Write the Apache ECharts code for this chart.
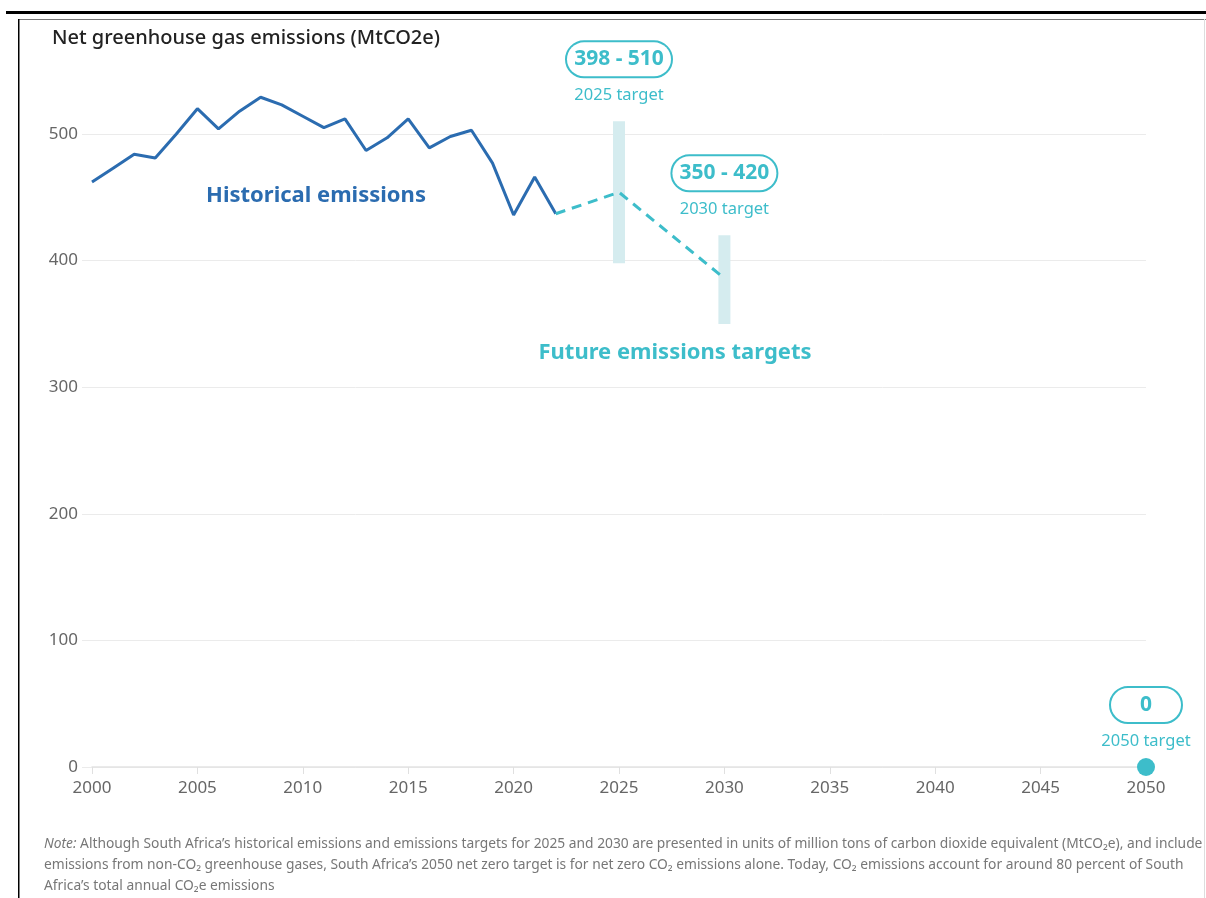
<!DOCTYPE html>
<html>
<head>
<meta charset="utf-8">
<script src="https://cdn.jsdelivr.net/npm/echarts@6/dist/echarts.min.js"></script>
<style>
  html, body { margin: 0; padding: 0; background: #fff; }
  #chart { width: 1206px; height: 898px; }
</style>
</head>
<body>
<div id="chart"></div>
<script>
// historical net emissions, MtCO2e
const histYears = [2000, 2001, 2002, 2003, 2004, 2005, 2006, 2007, 2008, 2009, 2010, 2011,
  2012, 2013, 2014, 2015, 2016, 2017, 2018, 2019, 2020, 2021, 2022]
const histValues = [462, 473, 484, 481, 500, 520, 504, 518, 529, 523, 514, 505,
  512, 487, 497, 512, 489, 498, 503, 477, 436, 466, 437]

// dashed path towards the targets
const pathYears = [2022, 2025, 2030]
const pathValues = [437, 454, 386]

// target ranges
const targetYears = [2025, 2030, 2050]
const targetLow = [398, 350, 0]
const targetHigh = [510, 420, 0]
const targetRange = ['398 - 510', '350 - 420', '0']
const targetNames = ['2025 target', '2030 target', '2050 target']

const xTicks = [2000, 2050, 5]
const yTicks = [0, 500, 100]

const BLUE = '#2b6cb0'
const TEAL = '#3dbdca'
const FONT = '"Noto Sans", Lato, sans-serif'

const chart = echarts.init(document.getElementById('chart'))

const option = {
  backgroundColor: '#fff',
  animation: false,
  textStyle: { fontFamily: FONT },
  grid: { left: 92, right: 60, top: 134, bottom: 131 },
  xAxis: {
    type: 'value',
    min: xTicks[0],
    max: xTicks[1],
    interval: xTicks[2],
    axisLine: { show: true, lineStyle: { color: '#e4e4e4', width: 1.5 } },
    axisTick: { show: true, length: 7, lineStyle: { color: '#e0e0e0' } },
    splitLine: { show: false },
    axisLabel: {
      color: '#666', fontSize: 17, margin: 13, fontFamily: FONT,
      formatter: v => String(v)
    }
  },
  yAxis: {
    type: 'value',
    min: yTicks[0],
    max: yTicks[1],
    interval: yTicks[2],
    axisLine: { show: false },
    axisTick: { show: true, length: 10, lineStyle: { color: '#ebebeb' } },
    splitLine: { show: true, lineStyle: { color: '#ebebeb', width: 1 } },
    axisLabel: { color: '#666', fontSize: 17, margin: 14, fontFamily: FONT }
  },
  series: [
    {
      // target bars + pills
      type: 'custom',
      z: 1,
      clip: false,
      data: targetYears.map((y, i) => [y, targetLow[i], targetHigh[i]]),
      encode: { x: 0, y: [1, 2] },
      renderItem: function (params, api) {
        const i = params.dataIndex
        const x = api.value(0)
        const lo = api.value(1)
        const hi = api.value(2)
        const pLo = api.coord([x, lo])
        const pHi = api.coord([x, hi])
        const children = []
        if (hi > lo) {
          children.push({
            type: 'rect',
            shape: { x: pLo[0] - 6, y: pHi[1], width: 12, height: pLo[1] - pHi[1] },
            style: { fill: '#d5ecef' }
          })
        } else {
          children.push({
            type: 'circle',
            shape: { cx: pLo[0], cy: pLo[1], r: 9 },
            style: { fill: TEAL },
            z2: 10
          })
        }
        const label = targetRange[i]
        children.push({
          type: 'text',
          x: pHi[0],
          y: pHi[1] - 62,
          style: {
            text: label,
            align: 'center',
            verticalAlign: 'middle',
            width: label.length > 2 ? 100 : 66,
            fill: TEAL,
            font: 'bold 21px ' + FONT,
            backgroundColor: '#fff',
            borderColor: TEAL,
            borderWidth: 2,
            borderRadius: 18,
            padding: [7, 2, 6, 2]
          }
        })
        children.push({
          type: 'text',
          x: pHi[0],
          y: pHi[1] - 26,
          style: {
            text: targetNames[i],
            align: 'center',
            verticalAlign: 'middle',
            fill: TEAL,
            font: '16.5px ' + FONT
          }
        })
        return { type: 'group', children: children }
      }
    },
    {
      name: 'Historical emissions',
      type: 'line',
      z: 3,
      clip: false,
      symbol: 'none',
      lineStyle: { color: BLUE, width: 3 },
      data: histYears.map((y, i) => [y, histValues[i]])
    },
    {
      name: 'Future emissions targets',
      type: 'line',
      z: 3,
      clip: false,
      symbol: 'none',
      lineStyle: { color: TEAL, width: 3, type: [10, 7] },
      data: pathYears.map((y, i) => [y, pathValues[i]])
    }
  ],
  graphic: [
    // frame
    { type: 'rect', shape: { x: 6, y: 11, width: 1200, height: 3 }, style: { fill: '#000' } },
    { type: 'rect', shape: { x: 18, y: 19, width: 1188, height: 1 }, style: { fill: '#777' } },
    { type: 'rect', shape: { x: 18, y: 19, width: 1.5, height: 879 }, style: { fill: '#000' } },
    { type: 'rect', shape: { x: 1204, y: 19, width: 1, height: 879 }, style: { fill: '#ddd' } },
    {
      type: 'text', left: 52, top: 28,
      style: { text: 'Net greenhouse gas emissions (MtCO2e)', fill: '#222', font: '500 20px ' + FONT }
    },
    {
      type: 'text', x: 316, y: 196,
      style: { text: 'Historical emissions', fill: BLUE, font: 'bold 22px ' + FONT, align: 'center', verticalAlign: 'middle' }
    },
    {
      type: 'text', x: 675, y: 353,
      style: { text: 'Future emissions targets', fill: TEAL, font: 'bold 22px ' + FONT, align: 'center', verticalAlign: 'middle' }
    },
    {
      type: 'text', left: 44, top: 834,
      style: {
        text: '{i|Note:} Although South Africa\u2019s historical emissions and emissions targets for 2025 and 2030 are presented in units of million tons of carbon dioxide equivalent (MtCO\u2082e), and include\n' +
          'emissions from non-CO\u2082 greenhouse gases, South Africa\u2019s 2050 net zero target is for net zero CO\u2082 emissions alone. Today, CO\u2082 emissions account for around 80 percent of South\n' +
          'Africa\u2019s total annual CO\u2082e emissions',
        fill: '#777',
        font: '13.8px ' + FONT,
        lineHeight: 21,
        rich: { i: { fontStyle: 'italic', fill: '#777', fontSize: 13.8, fontFamily: FONT } }
      }
    }
  ]
}

chart.setOption(option)
</script>
</body>
</html>
